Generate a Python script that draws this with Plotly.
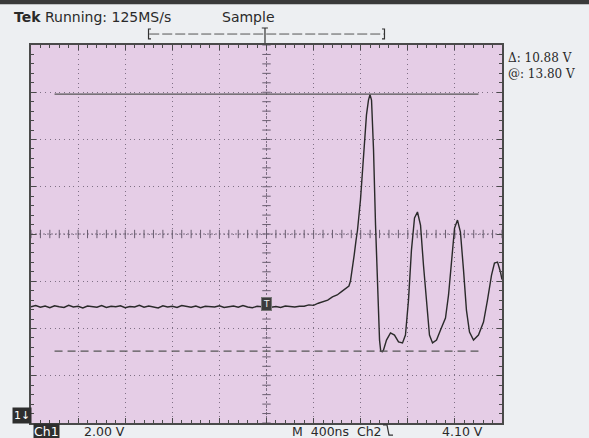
import plotly.graph_objects as go

# Channel 1 capture: time in ns relative to trigger, amplitude in volts
baseline_t = list(range(-2000, 281, 40))
baseline_v = [
    4.80, 4.85, 4.78, 4.83, 4.76, 4.84, 4.80, 4.77, 4.86, 4.79,
    4.82, 4.75, 4.83, 4.81, 4.78, 4.85, 4.77, 4.82, 4.80, 4.84,
    4.76, 4.81, 4.79, 4.86, 4.78, 4.83, 4.80, 4.75, 4.84, 4.79,
    4.82, 4.77, 4.85, 4.80, 4.78, 4.83, 4.76, 4.82, 4.81, 4.79,
    4.84, 4.77, 4.80, 4.83, 4.78, 4.85, 4.79, 4.76, 4.82, 4.80,
    4.84, 4.78, 4.81, 4.77, 4.83, 4.80, 4.79, 4.82,
]
pulse_t = [320, 360, 400, 440, 480, 520, 560, 600, 640, 680, 700, 713, 730, 745,
           760, 773, 798, 824, 849, 866, 879, 892, 909, 926, 943, 960, 970, 985,
           994, 1019, 1053, 1087, 1121, 1155, 1180, 1206, 1231, 1257, 1282, 1308,
           1333, 1359, 1384, 1410, 1444, 1478, 1520, 1546, 1571, 1597, 1622, 1647,
           1673, 1698, 1724, 1758, 1800, 1843, 1877, 1911, 1936, 1962, 1987, 2000]
pulse_v = [4.82, 4.88, 4.86, 4.95, 5.02, 5.08, 5.22, 5.30, 5.45, 5.60, 5.68, 5.89, 6.40, 7.00,
           7.60, 8.05, 9.32, 11.22, 12.92, 13.55, 13.78, 13.55, 11.44, 8.26, 5.51, 3.39, 2.92, 2.90,
           2.97, 3.39, 3.69, 3.60, 3.31, 3.27, 3.60, 5.09, 7.20, 8.56, 8.81, 8.26,
           6.57, 4.87, 3.60, 3.27, 3.39, 3.82, 4.32, 5.30, 6.78, 8.13, 8.47, 7.96,
           6.36, 4.66, 3.73, 3.39, 3.60, 4.15, 5.09, 6.14, 6.65, 6.69, 6.27, 5.95]

trace_t = baseline_t + pulse_t
trace_v = baseline_v + pulse_v

# Screen settings
time_per_div = 400      # ns
volts_per_div = 2.0     # V
center_v = 7.88
cursor_upper = 13.80
cursor_delta = 10.88
cursor_lower = cursor_upper - cursor_delta
trigger_level_marker = 4.92

t_min, t_max = -5 * time_per_div, 5 * time_per_div
v_min, v_max = center_v - 4 * volts_per_div, center_v + 4 * volts_per_div

frame_col = "#4a4a4a"
grid_col = "#7f7085"
tick_col = "#6a5e70"
screen_bg = "#e5cde6"
page_bg = "#edeff2"

fig = go.Figure()

# centre graticule ticks
ct = [t_min + i * time_per_div / 5 for i in range(51)]
cv = [v_min + i * volts_per_div / 5 for i in range(41)]
fig.add_trace(go.Scatter(x=ct, y=[center_v] * len(ct), mode="markers",
                         marker=dict(symbol="line-ns-open", size=6, color=tick_col,
                                     line=dict(color=tick_col, width=1)),
                         hoverinfo="skip", showlegend=False))
fig.add_trace(go.Scatter(x=[0] * len(cv), y=cv, mode="markers",
                         marker=dict(symbol="line-ew-open", size=6, color=tick_col,
                                     line=dict(color=tick_col, width=1)),
                         hoverinfo="skip", showlegend=False))

# waveform
fig.add_trace(go.Scatter(x=trace_t, y=trace_v, mode="lines",
                         line=dict(color="#2a2a2a", width=1.4),
                         showlegend=False))

shapes = [
    # centre crosshair
    dict(type="line", xref="x", yref="y", x0=t_min, x1=t_max, y0=center_v, y1=center_v,
         line=dict(color=grid_col, width=1, dash="2px,2px"), layer="below"),
    dict(type="line", xref="x", yref="y", x0=0, x1=0, y0=v_min, y1=v_max,
         line=dict(color=grid_col, width=1, dash="2px,2px"), layer="below"),
    # amplitude cursors
    dict(type="line", xref="x", yref="y", x0=-1800, x1=1800, y0=cursor_upper, y1=cursor_upper,
         line=dict(color="#555555", width=1.2)),
    dict(type="line", xref="x", yref="y", x0=-1800, x1=1800, y0=cursor_lower, y1=cursor_lower,
         line=dict(color="#555555", width=1.2, dash="8px,5px")),
    # top dark strip
    dict(type="rect", xref="paper", yref="paper", x0=-0.1, x1=1.2, y0=1.108, y1=1.13,
         fillcolor="#3a3a3a", line=dict(width=0)),
    # record-window bracket
    dict(type="line", xref="paper", yref="paper", x0=0.251, x1=0.749, y0=1.029, y1=1.029,
         line=dict(color="#555555", width=1, dash="10px,3px")),
    dict(type="path", xref="paper", yref="paper",
         path="M 0.2548,1.0423 L 0.2495,1.0423 L 0.2495,1.016 L 0.2548,1.016",
         line=dict(color="#333333", width=1.2)),
    dict(type="path", xref="paper", yref="paper",
         path="M 0.7452,1.0423 L 0.7505,1.0423 L 0.7505,1.016 L 0.7452,1.016",
         line=dict(color="#333333", width=1.2)),
    dict(type="path", xref="paper", yref="paper",
         path="M 0.490,1.0450 L 0.503,1.0450 M 0.4968,1.0450 L 0.4968,1.005",
         line=dict(color="#333333", width=1.2)),
    # falling-edge trigger glyph
    dict(type="path", xref="paper", yref="paper",
         path="M 0.7473,-0.0050 L 0.7558,-0.0050 L 0.7601,-0.0320 L 0.7686,-0.0320",
         line=dict(color="#333333", width=1.2)),
]

ann_font = dict(family="DejaVu Sans", size=12.5, color="#2a2a2a")
annotations = [
    dict(text="<b>Tek</b> Running: 125MS/s", x=-0.041, y=1.074, xanchor="left", yanchor="middle",
         font=dict(family="DejaVu Sans", size=14, color="#2a2a2a")),
    dict(text="Sample", x=0.401, y=1.074, xanchor="left", yanchor="middle",
         font=dict(family="DejaVu Sans", size=14, color="#2a2a2a")),
    # cursor readout
    dict(text="\u0394: 10.88 V<br>@: 13.80 V", x=1.0085, y=0.945, xanchor="left",
         yanchor="middle", align="left",
         font=dict(family="DejaVu Serif", size=12, color="#2a2a2a")),
    dict(text="1\u2193", x=-0.0405, y=0.0198, xanchor="left", yanchor="middle",
         font=dict(family="DejaVu Sans", size=11, color="#ffffff"), bgcolor="#2e2e2e",
         borderpad=1),
    dict(text="Ch1", x=0.004, y=-0.0215, xanchor="left", yanchor="middle",
         font=dict(family="DejaVu Sans", size=12.5, color="#ffffff"), bgcolor="#2e2e2e",
         borderpad=0),
    dict(text="2.00 V", x=0.108, y=-0.0215, xanchor="left", yanchor="middle", font=ann_font),
    dict(text="M  400ns  Ch2", x=0.549, y=-0.0215, xanchor="left", yanchor="middle", font=ann_font),
    dict(text="4.10 V", x=0.868, y=-0.0215, xanchor="left", yanchor="middle", font=ann_font),
    # trigger position marker on the trace
    dict(text="T", xref="x", yref="y", x=0, y=trigger_level_marker, showarrow=False,
         font=dict(family="DejaVu Sans", size=9, color="#f0f0f0"), bgcolor="#3c3c3c",
         bordercolor="#777777", borderwidth=1, borderpad=1),
]
for a in annotations:
    a.setdefault("xref", "paper")
    a.setdefault("yref", "paper")
    a.setdefault("showarrow", False)

axis_common = dict(showline=True, linecolor=frame_col, linewidth=1.5, mirror="allticks",
                   ticks="inside", ticklen=5, tickcolor=frame_col, showticklabels=False,
                   showgrid=True, gridcolor=grid_col, gridwidth=1, griddash="1px,3.7px",
                   zeroline=False, fixedrange=True)

fig.update_layout(
    width=589, height=438,
    margin=dict(l=31, r=87, t=45, b=15),
    paper_bgcolor=page_bg, plot_bgcolor=screen_bg,
    xaxis=dict(range=[t_min, t_max], tick0=t_min, dtick=time_per_div,
               minor=dict(dtick=time_per_div / 5, tick0=t_min, ticks="inside", ticklen=3,
                          tickcolor=frame_col, showgrid=False),
               **axis_common),
    yaxis=dict(range=[v_min, v_max], tick0=v_min, dtick=volts_per_div,
               minor=dict(dtick=volts_per_div / 5, tick0=v_min, ticks="inside", ticklen=3,
                          tickcolor=frame_col, showgrid=False),
               **axis_common),
    shapes=shapes,
    annotations=annotations,
    showlegend=False,
)

fig.write_html("out.html")
